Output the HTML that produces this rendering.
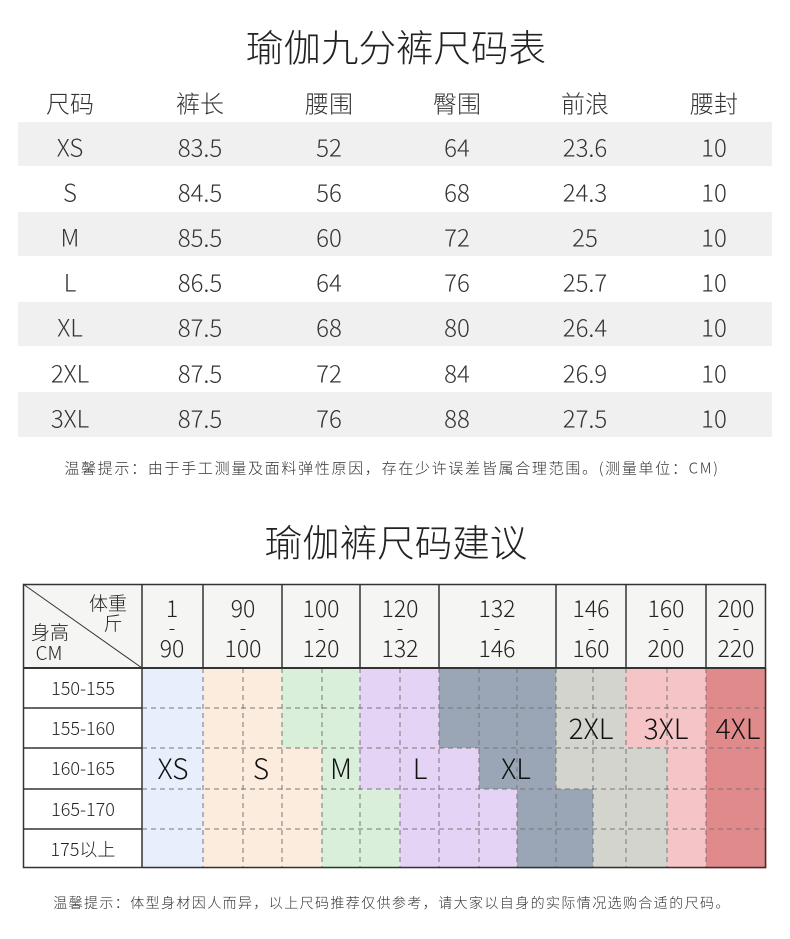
<!DOCTYPE html>
<html><head><meta charset="utf-8"><style>
body{margin:0;background:#fff;}
#c{position:relative;width:790px;height:939px;overflow:hidden;font-family:"Noto Sans CJK SC","Liberation Sans",sans-serif;font-weight:300;color:#222;}
.t{position:absolute;white-space:nowrap;transform:translate(-50%,-50%);}
.s{position:absolute;}
</style></head><body><div id="c">
<div class="t" style="left:396px;top:45px;font-size:37.5px;">瑜伽九分裤尺码表</div>
<div class="s" style="left:18px;top:122px;width:754px;height:44px;background:#f0f0f0"></div>
<div class="s" style="left:18px;top:212px;width:754px;height:44px;background:#f0f0f0"></div>
<div class="s" style="left:18px;top:302px;width:754px;height:44px;background:#f0f0f0"></div>
<div class="s" style="left:18px;top:392px;width:754px;height:45px;background:#f0f0f0"></div>
<div id="tb"></div>
<div class="t" style="left:392px;top:468px;font-size:15px;letter-spacing:1.7px;color:#333">温馨提示：由于手工测量及面料弹性原因，存在少许误差皆属合理范围。(测量单位：CM)</div>
<div class="t" style="left:396px;top:540px;font-size:37.5px;">瑜伽裤尺码建议</div>
<svg class="s" style="left:0;top:0" width="790" height="939">
<rect x="23" y="584" width="743" height="84" fill="#f5f5f3"/>
<g id="cells"></g>
<g stroke="#777" stroke-width="1" stroke-dasharray="5,4" id="dash"></g>
<g stroke="#333" fill="none">
<rect x="23.5" y="584.5" width="742" height="283" stroke-width="1.5"/>
<line x1="23" y1="668" x2="766" y2="668" stroke-width="2"/>
<line x1="23" y1="584" x2="142" y2="668" stroke-width="1"/>
<g id="solid" stroke-width="1.5"></g>
</g>
<g id="txt" font-family="Noto Sans CJK SC, Liberation Sans, sans-serif" font-weight="300" fill="#222" text-anchor="middle"></g>
</svg>
<div class="t" style="left:392px;top:903px;font-size:14px;letter-spacing:1.4px;color:#333">温馨提示：体型身材因人而异，以上尺码推荐仅供参考，请大家以自身的实际情况选购合适的尺码。</div>
</div>
<script>
var cols=[70,200,329,457,585,714];
var rows=[["尺码","裤长","腰围","臀围","前浪","腰封"],["XS","83.5","52","64","23.6","10"],["S","84.5","56","68","24.3","10"],["M","85.5","60","72","25","10"],["L","86.5","64","76","25.7","10"],["XL","87.5","68","80","26.4","10"],["2XL","87.5","72","84","26.9","10"],["3XL","87.5","76","88","27.5","10"]];
var h="";rows.forEach(function(r,i){var y=i==0?102:146+(i-1)*45.1;r.forEach(function(v,j){h+='<div class="t" style="left:'+cols[j]+'px;top:'+y+'px;font-size:24px;color:#333">'+v+'</div>';});});
document.getElementById("tb").outerHTML=h;
var B="#e7effd",P="#fcecdd",G="#d9efd9",U="#e5d3f6",S="#9aa6b5",L="#d4d4ce",K="#f4c4c6",R="#e08a8c";
var X=[142,203,243,282,322,360,400,439,479,517,556,593,626,667,706,766];
var Y=[668,708,748,789,829,868];
var M=[[B,B,B,B,B],[P,P,P,P,P],[P,P,P,P,P],[G,G,P,P,P],[G,G,G,G,G],[U,U,U,G,G],[U,U,U,U,U],[S,S,U,U,U],[S,S,S,U,U],[S,S,S,S,S],[L,L,L,S,S],[L,L,L,L,L],[K,K,L,L,L],[K,K,K,K,K],[R,R,R,R,R]];
var c="";for(var i=0;i<15;i++)for(var j=0;j<5;j++)c+='<rect x="'+X[i]+'" y="'+Y[j]+'" width="'+(X[i+1]-X[i]+0.5)+'" height="'+(Y[j+1]-Y[j]+0.5)+'" fill="'+M[i][j]+'"/>';
document.getElementById("cells").innerHTML=c;
var d="";for(var i=1;i<15;i++)d+='<line x1="'+X[i]+'" y1="668" x2="'+X[i]+'" y2="868"/>';
for(var j=1;j<5;j++)d+='<line x1="142" y1="'+Y[j]+'" x2="766" y2="'+Y[j]+'"/>';
document.getElementById("dash").innerHTML=d;
var s='<line x1="142" y1="584" x2="142" y2="868"/>';[203,282,360,439,556,626,706].forEach(function(x){s+='<line x1="'+x+'" y1="584" x2="'+x+'" y2="668"/>';});
for(var j=1;j<5;j++)s+='<line x1="23" y1="'+Y[j]+'" x2="142" y2="'+Y[j]+'"/>';
document.getElementById("solid").innerHTML=s;
var t="";
var hd=[[172,"1","90"],[243,"90","100"],[321,"100","120"],[400,"120","132"],[497,"132","146"],[591,"146","160"],[666,"160","200"],[736,"200","220"]];
hd.forEach(function(a){t+='<text x="'+a[0]+'" y="617" font-size="23">'+a[1]+'</text><text x="'+a[0]+'" y="635" font-size="20">-</text><text x="'+a[0]+'" y="657" font-size="23">'+a[2]+'</text>';});
t+='<text x="108" y="610" font-size="19">体重</text><text x="113" y="630" font-size="19">斤</text><text x="50" y="639" font-size="19">身高</text><text x="49" y="660" font-size="19">CM</text>';
["150-155","155-160","160-165","165-170","175以上"].forEach(function(v,j){t+='<text x="83" y="'+(Y[j]+27)+'" font-size="18">'+v+'</text>';});
[[173,779,"XS"],[261,779,"S"],[341,779,"M"],[420,779,"L"],[516,779,"XL"],[591,739,"2XL"],[666,739,"3XL"],[738,739,"4XL"]].forEach(function(a){t+='<text x="'+a[0]+'" y="'+a[1]+'" font-size="28" fill="#111">'+a[2]+'</text>';});
document.getElementById("txt").innerHTML=t;
</script>
</body></html>
